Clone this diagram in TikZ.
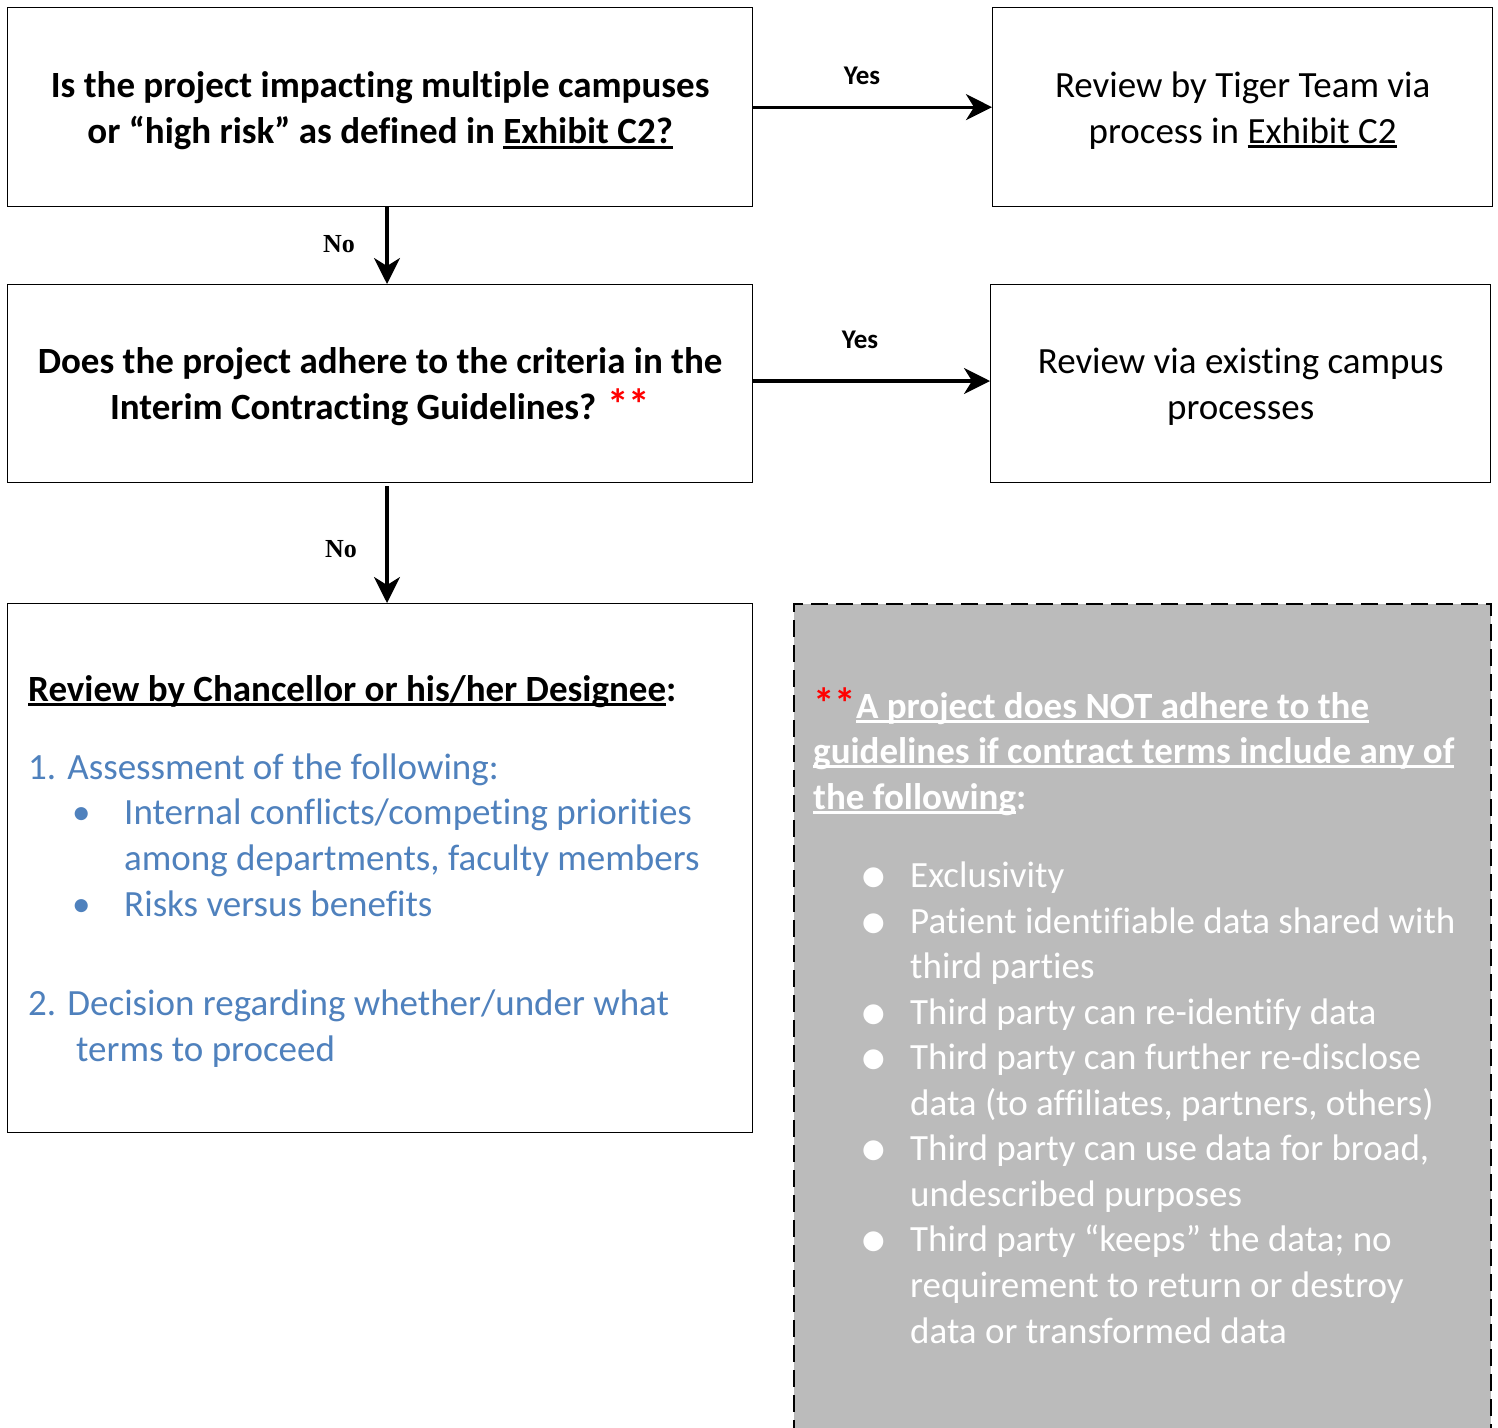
\documentclass[tikz,border=0pt]{standalone}
\usepackage{fontspec}
\setmainfont{Carlito}[Ligatures=NoCommon]
\newfontfamily\serifb{Liberation Serif}
\newfontfamily\djv{DejaVu Sans}
\newcommand\myul[1]{\leavevmode\setbox0\hbox{#1}\rlap{\rule[-0.13em]{\wd0}{0.065em}}\box0}
\newcommand\redast{{\fontsize{43}{46}\selectfont\bfseries\color{red}**}}
\usetikzlibrary{arrows.meta}
\definecolor{blu}{HTML}{4F81BD}
\definecolor{graybg}{HTML}{BBBBBB}
\begin{document}
\begin{tikzpicture}[x=1pt,y=-1pt,
  box/.style={draw=black, line width=1.3pt, anchor=north west, inner sep=0pt, align=center,
     font=\fontsize{37}{46}\selectfont},
  arr/.style={-{Stealth[length=26pt,width=26pt,inset=8pt]}, line width=3.2pt},
  yeslbl/.style={font=\fontsize{27}{27}\selectfont\bfseries},
  nolbl/.style={font=\fontsize{26}{26}\selectfont\serifb\bfseries},
  ln/.style={anchor=base west, inner sep=0pt, font=\fontsize{37}{46}\selectfont},
  bl/.style={ln, text=blu},
  wl/.style={ln, text=white},
  wb/.style={anchor=base west, inner sep=0pt, text=white, font=\fontsize{26}{26}\djv}
]
\useasboundingbox (0,0) rectangle (1498,1427);
\fill[white] (0,0) rectangle (1498,1427);

% boxes
\node[box, minimum width=745pt, minimum height=199pt] (b1) at (7,7) {};
\node[box, minimum width=500pt, minimum height=199pt] (b2) at (992,7) {};
\node[box, minimum width=745pt, minimum height=198pt] (b3) at (7,284) {};
\node[box, minimum width=500pt, minimum height=198pt] (b4) at (990,284) {};
\node[box, minimum width=745pt, minimum height=529pt] (b5) at (7,603) {};
\node[draw=black, fill=graybg, dashed, dash pattern=on 17pt off 8pt, line width=2pt,
  anchor=north west, inner sep=0pt, minimum width=697pt, minimum height=840pt] (g) at (793,603) {};

\node[box, draw=none, anchor=center] (t1) at ([yshift=-4pt]b1.center)
  {\bfseries Is the project impacting multiple campuses\\ \bfseries or “high risk” as defined in \myul{Exhibit C2?}};
\node[box, draw=none, anchor=center] (t2) at ([yshift=-3pt]b2.center)
  {Review by Tiger Team via\\ process in \myul{Exhibit C2}};
\node[box, draw=none, anchor=center] (t3) at ([yshift=-3pt]b3.center)
  {\bfseries Does the project adhere to the criteria in the\\ \bfseries Interim Contracting Guidelines? \redast};
\node[box, draw=none, anchor=center] (t4) at ([yshift=-3pt]b4.center)
  {Review via existing campus\\ processes};

% connectors
\coordinate (xa) at (387,0);
\draw[arr] (b1.east) -- (b2.west);
\node[yeslbl] (y1) at (862,76) {Yes};
\draw[arr] (b3.east |- 0,381) -- (b4.west |- 0,381);
\node[yeslbl] (y2) at (860,340) {Yes};
\draw[arr] (b1.south -| xa) -- (b3.north -| xa);
\node[nolbl] (n1) at (339,244) {No};
\draw[arr] (b3.south -| xa) ++(0,3) -- (b5.north -| xa);
\node[nolbl] (n2) at (341,549) {No};

% box 5 text
\node[ln] (c0) at (28,701) {\bfseries\myul{Review by Chancellor or his/her Designee}:};
\node[bl] (c1) at (28,779) {1. Assessment of the following:};
\node[bl] (c2b) at (72,824) {•};
\node[bl] (c2) at (124,824) {Internal conflicts/competing priorities};
\node[bl] (c3) at (124,870) {among departments, faculty members};
\node[bl] (c4b) at (72,916) {•};
\node[bl] (c4) at (124,916) {Risks versus benefits};
\node[bl] (c5) at (28,1015) {2. Decision regarding whether/under what};
\node[bl] (c6) at (76,1061) {terms to proceed};

% gray box text
\node[wl] (d1) at (813,718) {\redast\bfseries\myul{A project does NOT adhere to the}};
\node[wl] (d2) at (813,763) {\bfseries\myul{guidelines if contract terms include any of}};
\node[wl] (d3) at (813,809) {\bfseries\myul{the following}:};

\node[wb] (e1b) at (862,884) {●};
\node[wl] (e1) at (910,887) {Exclusivity};
\node[wb] (e2b) at (862,930) {●};
\node[wl] (e2) at (910,933) {Patient identifiable data shared with};
\node[wl] (e3) at (910,978) {third parties};
\node[wb] (e4b) at (862,1021) {●};
\node[wl] (e4) at (910,1024) {Third party can re-identify data};
\node[wb] (e5b) at (862,1066) {●};
\node[wl] (e5) at (910,1069) {Third party can further re-disclose};
\node[wl] (e6) at (910,1115) {data (to affiliates, partners, others)};
\node[wb] (e7b) at (862,1157) {●};
\node[wl] (e7) at (910,1160) {Third party can use data for broad,};
\node[wl] (e8) at (910,1206) {undescribed purposes};
\node[wb] (e9b) at (862,1248) {●};
\node[wl] (e9) at (910,1251) {Third party “keeps” the data; no};
\node[wl] (e10) at (910,1297) {requirement to return or destroy};
\node[wl] (e11) at (910,1343) {data or transformed data};
\end{tikzpicture}
\end{document}
